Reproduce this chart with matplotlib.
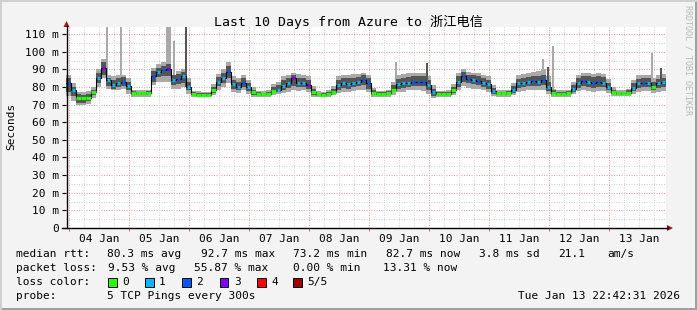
import numpy as np
import matplotlib
matplotlib.use('Agg')
import matplotlib.pyplot as plt
from matplotlib.patches import Rectangle, Polygon
from matplotlib.lines import Line2D

plt.rcParams['font.family'] = ['DejaVu Sans Mono', 'Noto Sans CJK SC']

# ---------------- data (2-hour steps starting Jan 03 22:42) ----------------
# time axis in hours since Jan 04 00:00
start_hour = -1.3
step_hours = 2.0

median_ms = [
    82, 78, 73.5, 73.5, 74, 77, 85, 91, 84, 81, 82.5, 83,
    80.5, 76.5, 76.3, 76.3, 76.5, 86, 88.5, 89.5, 90, 84, 84.5, 86,
    80, 76, 75.7, 75.5, 75.5, 78, 83, 85, 88.5, 81.5, 80, 82.5,
    80, 77, 76, 75.8, 76, 77.8, 78.5, 80.8, 82, 85, 82.5, 82.5,
    81, 77, 75.8, 75.7, 76, 77.3, 81, 82, 81.5, 82.5, 83, 84,
    82, 76.5, 76, 76, 76.3, 78.5, 81.5, 82, 82.5, 83, 83, 83,
    81, 77, 76, 76, 76, 78, 83, 86, 84.5, 84, 83.5, 82,
    81.5, 77.5, 76.4, 76.4, 76.5, 78, 82, 82.5, 83, 83.5, 83, 84,
    80, 76.5, 76.2, 76.2, 76.3, 79, 82, 83.5, 83, 82, 83, 82.5,
    80, 77, 76.4, 76.4, 76.8, 79.5, 82, 82.5, 82.5, 80, 82, 82.7,
]
loss_count = [
    2, 1, 0, 0, 0, 0, 1, 3, 1, 1, 1, 2,
    1, 0, 0, 0, 0, 2, 1, 2, 3, 1, 2, 1,
    1, 0, 0, 0, 0, 0, 1, 1, 2, 1, 1, 2,
    1, 0, 0, 0, 0, 0, 1, 1, 1, 3, 1, 1,
    3, 0, 0, 0, 0, 0, 1, 1, 1, 1, 1, 2,
    2, 0, 0, 0, 0, 0, 1, 1, 1, 2, 2, 2,
    1, 1, 0, 0, 0, 0, 1, 2, 2, 1, 2, 1,
    1, 1, 0, 0, 0, 1, 1, 1, 1, 2, 1, 2,
    1, 0, 0, 0, 0, 1, 1, 2, 1, 2, 2, 1,
    1, 0, 0, 0, 0, 1, 1, 2, 1, 0, 1, 1,
]
smoke_low = [
    75, 72, 69.5, 69.5, 70.5, 74, 80, 85, 79, 78, 78.5, 79,
    76, 74.5, 74.5, 74.5, 74.5, 81, 83, 83, 83, 79, 79, 80,
    76, 74.5, 74.3, 74.3, 74.3, 75.5, 78, 80, 82, 77, 76.5, 78,
    76, 74.5, 74.5, 74.3, 74.5, 75.5, 76, 76.5, 77, 78, 77.5, 78,
    77, 74.5, 74.3, 74.3, 74.5, 75.5, 76.5, 77, 77, 77.5, 78, 78.5,
    77, 74.5, 74.5, 74.5, 74.5, 75.5, 77, 77, 78, 78, 78, 77.5,
    76, 73.5, 74.3, 74.3, 74.5, 75.5, 78, 80.5, 79.5, 79, 79, 78,
    77, 75, 74.5, 74.5, 74.5, 75.5, 77, 77.5, 78, 78, 78, 78.5,
    76, 74.5, 74.5, 74.5, 74.5, 76, 77.5, 78, 77.5, 77, 77.5, 77.5,
    76.5, 75, 74.8, 74.8, 75, 76, 77, 77.5, 77.5, 76.5, 77, 77.5,
]
smoke_dark_low = [
    77, 75, 71, 71, 72, 75.5, 82, 87, 80.5, 79, 80, 80.5,
    78, 75.5, 75.3, 75.3, 75.5, 83, 85.5, 86, 86, 81, 81.5, 82.5,
    78, 75.2, 75, 75, 75, 76.5, 80.5, 82, 85, 79, 78, 80,
    77.5, 75.5, 75.2, 75, 75.2, 76.5, 77, 78.5, 79.5, 80.5, 80, 80,
    79, 75.5, 75, 75, 75.2, 76.3, 78.5, 79.5, 79, 80, 80.5, 81,
    79, 75.5, 75.2, 75.2, 75.3, 77, 79, 79.5, 80, 80.5, 80.5, 80.5,
    78, 75, 75.2, 75.2, 75.2, 76.5, 80, 83, 82, 81.5, 81, 80,
    79, 76, 75.5, 75.5, 75.5, 76.5, 79.5, 80, 80.5, 80.5, 80.5, 81,
    77.5, 75.5, 75.3, 75.3, 75.3, 77, 79.5, 80.5, 80, 79.5, 80, 80,
    78, 76, 75.5, 75.5, 75.8, 77.5, 79.5, 80, 80, 78, 79.5, 80,
]
smoke_dark_high = [
    85, 80, 76, 75.5, 76, 78.5, 88, 94, 85, 84, 85, 85.5,
    83, 77.5, 77.3, 77.3, 77.5, 89, 91, 92, 93, 87, 87.5, 88.5,
    83, 77, 76.7, 76.5, 76.5, 80, 85.5, 88, 92, 84, 83, 85,
    82.5, 78.5, 77, 76.7, 77, 80, 81, 84, 85, 86.5, 85, 85,
    84, 79, 76.7, 76.5, 77, 79, 84, 85, 85, 85, 85.5, 86.5,
    85, 78, 77, 77, 77.5, 81, 84.5, 85, 85.5, 86, 86, 86,
    84, 79, 77, 77, 77, 80, 86, 88.5, 87, 86.5, 86, 85,
    84, 79.5, 77.3, 77.3, 77.5, 80.5, 84.5, 85, 85.5, 86, 86, 87,
    83, 78, 77.2, 77.2, 77.5, 81, 85, 86, 86, 85.5, 86, 85.5,
    82.5, 78.5, 77.3, 77.3, 78, 82, 84.5, 85, 85, 83, 84.5, 85,
]
smoke_high = [
    87, 82, 77, 77, 77.5, 80, 90, 96, 86.5, 86, 87, 87,
    85, 78.5, 78, 78, 78.5, 91, 93, 94, 115, 87, 89, 90,
    85, 77.8, 77.5, 77.3, 77.3, 81.5, 87.5, 90, 94, 86, 85, 87,
    84, 80, 77.8, 77.5, 78, 81.5, 83, 86, 87, 88, 87.5, 87,
    86, 80.5, 77.5, 77.3, 78, 80.5, 86, 87, 87, 87.5, 87.5, 88,
    87, 79.5, 77.8, 77.8, 78.5, 83, 87, 87.5, 88, 88, 88, 88,
    86, 81, 77.8, 77.8, 78, 81.5, 88, 90, 88.5, 88, 88, 86.5,
    86, 81, 78, 78, 78.5, 82.5, 87, 87.5, 88, 88.5, 89, 90,
    86, 79, 78, 78, 78.5, 83, 87, 88, 88, 87.5, 88, 87.5,
    84.5, 80, 78, 78, 79, 84, 86.5, 87, 87, 85, 87, 87.5,
]
# isolated outlier pings (hours since Jan 04 00:00, top in ms, dark shade?)
spike_hours = [15.1, 20.7, 41.8, 46.7, 130.7, 143.0, 189.3, 191.3, 193.6, 233.0, 236.7]
spike_top_ms = [115, 115, 106, 115, 94, 93.7, 96, 91.2, 103, 99.4, 90.7]
spike_is_dark = [0, 0, 0, 1, 0, 1, 0, 1, 0, 0, 1]

day_labels = ['04 Jan', '05 Jan', '06 Jan', '07 Jan', '08 Jan',
              '09 Jan', '10 Jan', '11 Jan', '12 Jan', '13 Jan']
y_tick_values = [0, 10, 20, 30, 40, 50, 60, 70, 80, 90, 100, 110]
loss_colors = ['#26ff00', '#00b8ff', '#0059ff', '#7e00ff', '#ff0000', '#a00000']
loss_labels = ['0', '1', '2', '3', '4', '5/5']

# ---------------- figure ----------------
W, H = 697, 310
fig = plt.figure(figsize=(W / 100, H / 100), dpi=100, facecolor='#f3f3f3')


def fx(px):
    return px / W


def fy(py):
    return 1 - py / H


ax = fig.add_axes([fx(66), fy(228), 600 / W, 201 / H])
ax.set_facecolor('white')
x_min, x_max = start_hour, start_hour + step_hours * len(median_ms)
ax.set_xlim(x_min, x_max)
ax.set_ylim(0, 114)
for s in ax.spines.values():
    s.set_visible(False)

RED_GRID = '#f0a0a0'
GREY_GRID = '#d4d4d4'
dots = (0, (1, 1.4))
for v in range(5, 114, 5):
    ax.axhline(v, color=RED_GRID if v % 10 == 0 else GREY_GRID, lw=0.75,
               ls=dots, zorder=0.5)
for hh in range(0, 240, 6):
    ax.axvline(hh, color=RED_GRID if hh % 24 == 0 else GREY_GRID, lw=0.75,
               ls=dots, zorder=0.5)

med = np.array(median_ms, dtype=float)
loss = np.array(loss_count)
edges = start_hour + step_hours * np.arange(len(med) + 1)


def ext(a):
    a = np.asarray(a, dtype=float)
    return np.r_[a, a[-1]]


LIGHT = '#a9a9a9'
DARK = '#555555'
ax.fill_between(edges, ext(smoke_low), ext(smoke_high), step='post',
                color=LIGHT, lw=0, zorder=1)
# spikes
for th, top, dk in zip(spike_hours, spike_top_ms, spike_is_dark):
    idx = int((th - start_hour) // step_hours)
    base = med[idx]
    ax.bar(th, top - base, bottom=base, width=0.8,
           color=DARK if dk else LIGHT, lw=0, zorder=1.5 if dk else 1)
ax.fill_between(edges, ext(smoke_dark_low), ext(smoke_dark_high), step='post',
                color=DARK, lw=0, zorder=2)
ax.step(edges, ext(med), where='post', color='black', lw=0.8, zorder=3)
gap = np.where(loss == 0, 0.0, 0.5)
ax.hlines(med, edges[:-1] + gap, edges[1:] - gap,
          colors=[loss_colors[l] for l in loss_count], lw=2.3, zorder=4)

# ticks
ax.set_yticks(y_tick_values)
ax.set_yticklabels(['0'] + [f'{v} m' for v in y_tick_values[1:]])
ax.tick_params(axis='y', length=3, width=0.8, pad=2, labelsize=8)
ax.set_xticks([12 + 24 * d for d in range(len(day_labels))])
ax.set_xticklabels(day_labels)
ax.tick_params(axis='x', length=0, pad=4.5, labelsize=8)
ax.set_xticks([24 * d for d in range(10)], minor=True)
ax.tick_params(axis='x', which='minor', length=2, color='#e06060', width=0.7)

# axis lines and arrows
fig.add_artist(Line2D([fx(62), fx(668)], [fy(228), fy(228)], color='black', lw=1))
fig.add_artist(Line2D([fx(66.5), fx(66.5)], [fy(228), fy(26)], color='black', lw=1))
ARROW = '#a01818'
fig.add_artist(Polygon([[fx(667), fy(225)], [fx(667), fy(231)], [fx(673), fy(228)]],
                       closed=True, color=ARROW, lw=0))
fig.add_artist(Polygon([[fx(63.5), fy(27)], [fx(69.5), fy(27)], [fx(66.5), fy(21)]],
                       closed=True, color=ARROW, lw=0))

# borders
fig.add_artist(Rectangle((0, 0), 1, 2 / H, color='#a0a0a0', lw=0))
fig.add_artist(Rectangle((1 - 2 / W, 0), 2 / W, 1, color='#a0a0a0', lw=0))
fig.add_artist(Rectangle((0, 1 - 2 / H), 1, 2 / H, color='#d0d0d0', lw=0))
fig.add_artist(Rectangle((0, 0), 2 / W, 1, color='#d0d0d0', lw=0))

# texts
fig.text(fx(348), fy(22), 'Last 10 Days from Azure to 浙江电信', ha='center',
         va='center', fontsize=9.5)
fig.text(fx(11), fy(126), 'Seconds', rotation=90, ha='center', va='center',
         fontsize=8)
fig.text(fx(688), fy(60), 'RRDTOOL / TOBI OETIKER', rotation=270, ha='center',
         va='center', fontsize=6, color='#b8b8b8')

FS = 8
rows = {'median': 254, 'loss': 268, 'color': 282, 'probe': 296}
fig.text(fx(16), fy(rows['median']), 'median rtt:', va='center', fontsize=FS)
for xp, s in zip([107, 201, 293, 386, 479, 558, 607],
                 ['80.3 ms avg', '92.7 ms max', '73.2 ms min', '82.7 ms now',
                  '3.8 ms sd', '21.1', 'am/s']):
    fig.text(fx(xp), fy(rows['median']), s, va='center', fontsize=FS)
fig.text(fx(16), fy(rows['loss']), 'packet loss:', va='center', fontsize=FS)
for xp, s in zip([108, 194, 293, 383],
                 ['9.53 % avg', '55.87 % max', '0.00 % min', '13.31 % now']):
    fig.text(fx(xp), fy(rows['loss']), s, va='center', fontsize=FS)
fig.text(fx(16), fy(rows['color']), 'loss color:', va='center', fontsize=FS)
for xp, col, lab in zip([108, 145, 182, 220, 257, 293], loss_colors, loss_labels):
    fig.add_artist(Rectangle((fx(xp), fy(286.5)), 8.5 / W, 8.5 / H,
                             facecolor=col, edgecolor='black', lw=0.7))
    fig.text(fx(xp + 14), fy(rows['color']), lab, va='center', fontsize=FS)
fig.text(fx(16), fy(rows['probe']), 'probe:', va='center', fontsize=FS)
fig.text(fx(107), fy(rows['probe']), '5 TCP Pings every 300s', va='center',
         fontsize=FS)
fig.text(fx(680), fy(rows['probe']), 'Tue Jan 13 22:42:31 2026', va='center',
         ha='right', fontsize=FS)

fig.savefig('out.png', dpi=100, facecolor=fig.get_facecolor())
